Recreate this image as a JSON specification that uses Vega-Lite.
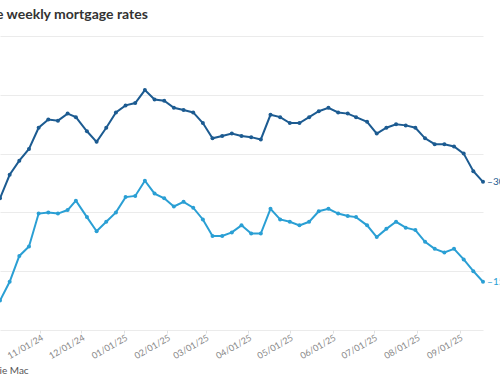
{
  "$schema": "https://vega.github.io/schema/vega-lite/v6.json",
  "width": 483,
  "height": 294,
  "autosize": {"type": "none"},
  "padding": {"left": 0, "top": 36, "right": 17, "bottom": 53},
  "background": "white",
  "config": {
    "font": "Lato",
    "view": {"stroke": null}
  },
  "title": {
    "text": "e weekly mortgage rates",
    "anchor": "start",
    "fontSize": 14,
    "fontWeight": "bold",
    "color": "#333333",
    "baseline": "alphabetic",
    "offset": 3,
    "dx": 0
  },
  "datasets": {
    "rates": [
      {"date": "2024-10-03", "series": "30-year", "rate": 6.12},
      {"date": "2024-10-10", "series": "30-year", "rate": 6.32},
      {"date": "2024-10-17", "series": "30-year", "rate": 6.44},
      {"date": "2024-10-24", "series": "30-year", "rate": 6.54},
      {"date": "2024-10-31", "series": "30-year", "rate": 6.72},
      {"date": "2024-11-07", "series": "30-year", "rate": 6.79},
      {"date": "2024-11-14", "series": "30-year", "rate": 6.78},
      {"date": "2024-11-21", "series": "30-year", "rate": 6.84},
      {"date": "2024-11-27", "series": "30-year", "rate": 6.81},
      {"date": "2024-12-05", "series": "30-year", "rate": 6.69},
      {"date": "2024-12-12", "series": "30-year", "rate": 6.60},
      {"date": "2024-12-19", "series": "30-year", "rate": 6.72},
      {"date": "2024-12-26", "series": "30-year", "rate": 6.85},
      {"date": "2025-01-02", "series": "30-year", "rate": 6.91},
      {"date": "2025-01-09", "series": "30-year", "rate": 6.93},
      {"date": "2025-01-16", "series": "30-year", "rate": 7.04},
      {"date": "2025-01-23", "series": "30-year", "rate": 6.96},
      {"date": "2025-01-30", "series": "30-year", "rate": 6.95},
      {"date": "2025-02-06", "series": "30-year", "rate": 6.89},
      {"date": "2025-02-13", "series": "30-year", "rate": 6.87},
      {"date": "2025-02-20", "series": "30-year", "rate": 6.85},
      {"date": "2025-02-27", "series": "30-year", "rate": 6.76},
      {"date": "2025-03-06", "series": "30-year", "rate": 6.63},
      {"date": "2025-03-13", "series": "30-year", "rate": 6.65},
      {"date": "2025-03-20", "series": "30-year", "rate": 6.67},
      {"date": "2025-03-27", "series": "30-year", "rate": 6.65},
      {"date": "2025-04-03", "series": "30-year", "rate": 6.64},
      {"date": "2025-04-10", "series": "30-year", "rate": 6.62},
      {"date": "2025-04-17", "series": "30-year", "rate": 6.83},
      {"date": "2025-04-24", "series": "30-year", "rate": 6.81},
      {"date": "2025-05-01", "series": "30-year", "rate": 6.76},
      {"date": "2025-05-08", "series": "30-year", "rate": 6.76},
      {"date": "2025-05-15", "series": "30-year", "rate": 6.81},
      {"date": "2025-05-22", "series": "30-year", "rate": 6.86},
      {"date": "2025-05-29", "series": "30-year", "rate": 6.89},
      {"date": "2025-06-05", "series": "30-year", "rate": 6.85},
      {"date": "2025-06-12", "series": "30-year", "rate": 6.84},
      {"date": "2025-06-18", "series": "30-year", "rate": 6.81},
      {"date": "2025-06-26", "series": "30-year", "rate": 6.77},
      {"date": "2025-07-03", "series": "30-year", "rate": 6.67},
      {"date": "2025-07-10", "series": "30-year", "rate": 6.72},
      {"date": "2025-07-17", "series": "30-year", "rate": 6.75},
      {"date": "2025-07-24", "series": "30-year", "rate": 6.74},
      {"date": "2025-07-31", "series": "30-year", "rate": 6.72},
      {"date": "2025-08-07", "series": "30-year", "rate": 6.63},
      {"date": "2025-08-14", "series": "30-year", "rate": 6.58},
      {"date": "2025-08-21", "series": "30-year", "rate": 6.58},
      {"date": "2025-08-28", "series": "30-year", "rate": 6.56},
      {"date": "2025-09-04", "series": "30-year", "rate": 6.50},
      {"date": "2025-09-11", "series": "30-year", "rate": 6.35},
      {"date": "2025-09-18", "series": "30-year", "rate": 6.26},
      {"date": "2024-10-03", "series": "15-year", "rate": 5.25},
      {"date": "2024-10-10", "series": "15-year", "rate": 5.41},
      {"date": "2024-10-17", "series": "15-year", "rate": 5.63},
      {"date": "2024-10-24", "series": "15-year", "rate": 5.71},
      {"date": "2024-10-31", "series": "15-year", "rate": 5.99},
      {"date": "2024-11-07", "series": "15-year", "rate": 6.00},
      {"date": "2024-11-14", "series": "15-year", "rate": 5.99},
      {"date": "2024-11-21", "series": "15-year", "rate": 6.02},
      {"date": "2024-11-27", "series": "15-year", "rate": 6.10},
      {"date": "2024-12-05", "series": "15-year", "rate": 5.96},
      {"date": "2024-12-12", "series": "15-year", "rate": 5.84},
      {"date": "2024-12-19", "series": "15-year", "rate": 5.92},
      {"date": "2024-12-26", "series": "15-year", "rate": 6.00},
      {"date": "2025-01-02", "series": "15-year", "rate": 6.13},
      {"date": "2025-01-09", "series": "15-year", "rate": 6.14},
      {"date": "2025-01-16", "series": "15-year", "rate": 6.27},
      {"date": "2025-01-23", "series": "15-year", "rate": 6.16},
      {"date": "2025-01-30", "series": "15-year", "rate": 6.12},
      {"date": "2025-02-06", "series": "15-year", "rate": 6.05},
      {"date": "2025-02-13", "series": "15-year", "rate": 6.09},
      {"date": "2025-02-20", "series": "15-year", "rate": 6.04},
      {"date": "2025-02-27", "series": "15-year", "rate": 5.94},
      {"date": "2025-03-06", "series": "15-year", "rate": 5.80},
      {"date": "2025-03-13", "series": "15-year", "rate": 5.80},
      {"date": "2025-03-20", "series": "15-year", "rate": 5.83},
      {"date": "2025-03-27", "series": "15-year", "rate": 5.89},
      {"date": "2025-04-03", "series": "15-year", "rate": 5.82},
      {"date": "2025-04-10", "series": "15-year", "rate": 5.82},
      {"date": "2025-04-17", "series": "15-year", "rate": 6.03},
      {"date": "2025-04-24", "series": "15-year", "rate": 5.94},
      {"date": "2025-05-01", "series": "15-year", "rate": 5.92},
      {"date": "2025-05-08", "series": "15-year", "rate": 5.89},
      {"date": "2025-05-15", "series": "15-year", "rate": 5.92},
      {"date": "2025-05-22", "series": "15-year", "rate": 6.01},
      {"date": "2025-05-29", "series": "15-year", "rate": 6.03},
      {"date": "2025-06-05", "series": "15-year", "rate": 5.99},
      {"date": "2025-06-12", "series": "15-year", "rate": 5.97},
      {"date": "2025-06-18", "series": "15-year", "rate": 5.96},
      {"date": "2025-06-26", "series": "15-year", "rate": 5.89},
      {"date": "2025-07-03", "series": "15-year", "rate": 5.79},
      {"date": "2025-07-10", "series": "15-year", "rate": 5.86},
      {"date": "2025-07-17", "series": "15-year", "rate": 5.92},
      {"date": "2025-07-24", "series": "15-year", "rate": 5.87},
      {"date": "2025-07-31", "series": "15-year", "rate": 5.85},
      {"date": "2025-08-07", "series": "15-year", "rate": 5.75},
      {"date": "2025-08-14", "series": "15-year", "rate": 5.69},
      {"date": "2025-08-21", "series": "15-year", "rate": 5.66},
      {"date": "2025-08-28", "series": "15-year", "rate": 5.69},
      {"date": "2025-09-04", "series": "15-year", "rate": 5.60},
      {"date": "2025-09-11", "series": "15-year", "rate": 5.50},
      {"date": "2025-09-18", "series": "15-year", "rate": 5.41}
    ]
  },
  "data": {"name": "rates"},
  "encoding": {
    "x": {
      "field": "date",
      "type": "temporal",
      "scale": {"type": "utc", "domain": [{"year": 2024, "month": 10, "date": 3, "utc": true}, {"year": 2025, "month": 9, "date": 18, "utc": true}]},
      "axis": {
        "labelExpr": "utcFormat(datum.value, '%m/%d/%y')",
        "tickCount": {"interval": "month", "step": 1},
        "labelAngle": -30,
        "labelAlign": "right",
        "labelBaseline": "top",
        "labelFontSize": 9,
        "labelColor": "#888888",
        "labelPadding": 0,
        "labelOverlap": false,
        "domain": false,
        "grid": false,
        "ticks": true,
        "tickSize": 3,
        "tickColor": "#e0e0e0",
        "title": "ie Mac",
        "titleFontSize": 10,
        "titleFontWeight": "normal",
        "titleColor": "#555555",
        "titleAnchor": "start",
        "titleAlign": "left",
        "titleBaseline": "alphabetic",
        "titleX": -1,
        "titleY": 43
      }
    },
    "y": {
      "field": "rate",
      "type": "quantitative",
      "scale": {"domain": [5, 7.5], "nice": false, "zero": false},
      "axis": {
        "values": [5, 5.5, 6, 6.5, 7, 7.5],
        "labels": false,
        "ticks": false,
        "domain": false,
        "title": null,
        "grid": true,
        "gridColor": "#ebebeb",
        "gridWidth": 1
      }
    },
    "color": {
      "field": "series",
      "type": "nominal",
      "scale": {"domain": ["30-year", "15-year"], "range": ["#1c5b91", "#2a9fd4"]},
      "legend": null
    }
  },
  "layer": [
    {
      "mark": {"type": "line", "strokeWidth": 2, "point": {"filled": true, "size": 16}}
    },
    {
      "transform": [{"filter": "time(datum.date) === utc(2025, 8, 18)"}],
      "mark": {"type": "text", "text": "–", "dx": 7, "align": "center", "baseline": "middle", "fontSize": 10, "color": "#bbbbbb"}
    },
    {
      "transform": [{"filter": "time(datum.date) === utc(2025, 8, 18)"}],
      "mark": {"type": "text", "dx": 10, "align": "left", "baseline": "middle", "fontSize": 10},
      "encoding": {"text": {"field": "series"}}
    }
  ]
}
